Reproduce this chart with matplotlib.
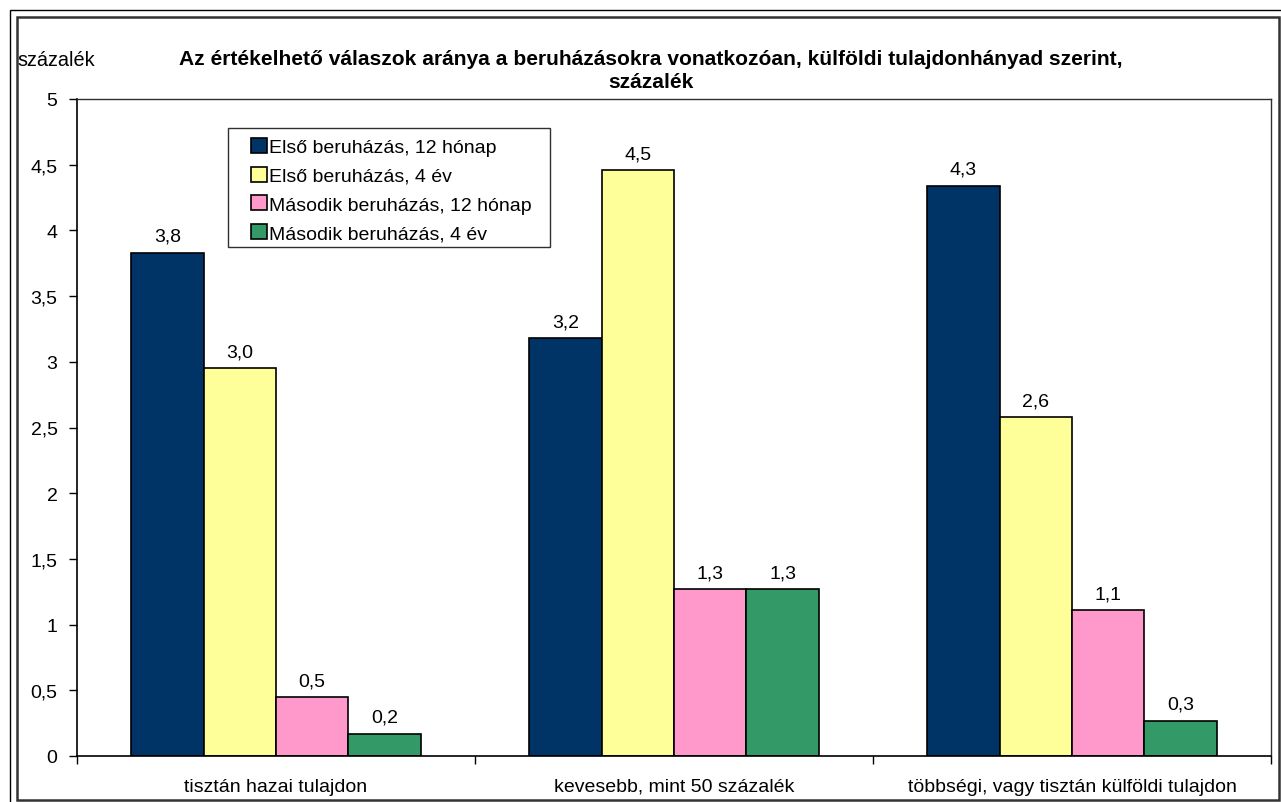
import numpy as np
import matplotlib
matplotlib.use("Agg")
import matplotlib.pyplot as plt
from matplotlib.patches import Rectangle

plt.rcParams['font.family'] = ['Liberation Sans', 'DejaVu Sans']

# adatok
categories = ["tisztán hazai tulajdon", "kevesebb, mint 50 százalék",
              "többségi, vagy tisztán külföldi tulajdon"]
series_names = ["Első beruházás, 12 hónap", "Első beruházás, 4 év",
                "Második beruházás, 12 hónap", "Második beruházás, 4 év"]
elso_12 = [3.83, 3.18, 4.34]
elso_4 = [2.95, 4.46, 2.58]
masodik_12 = [0.45, 1.27, 1.11]
masodik_4 = [0.17, 1.27, 0.27]
yticks = [0, 0.5, 1, 1.5, 2, 2.5, 3, 3.5, 4, 4.5, 5]

series = [elso_12, elso_4, masodik_12, masodik_4]
colors = ["#003366", "#FFFF99", "#FF99CC", "#339966"]

fig = plt.figure(figsize=(12.81, 8.03), dpi=100)
W, H = 1281, 803
ax = fig.add_axes([77 / W, 1 - 757 / H, (1271 - 77) / W, (757 - 100) / H])
AW, AH = 1271 - 77, 757 - 100

x = np.arange(len(categories))
bw = 1 / 5.5
for i, (vals, col) in enumerate(zip(series, colors)):
    pos = x + (i - 1.5) * bw
    ax.bar(pos, vals, width=bw, color=col, edgecolor="black", linewidth=1.2,
           label=series_names[i], zorder=2)
    for p, v in zip(pos, vals):
        ax.annotate(f"{v:.1f}".replace(".", ","), (p, v), xytext=(0, 8.5),
                    textcoords="offset points", ha="center", va="baseline",
                    fontsize=14)

ax.set_xlim(-0.5, 2.5)
ax.set_ylim(0, 5)
ax.set_yticks(yticks)
ax.set_yticklabels([f"{t:g}".replace(".", ",") for t in yticks], fontsize=14)
ax.set_xticks([-0.5, 0.5, 1.5, 2.5])
ax.set_xticklabels([])
for xi, cat in zip(x, categories):
    ax.annotate(cat, (xi, 0), xycoords=("data", "axes fraction"), xytext=(0, -25.2),
                textcoords="offset points", ha="center", va="baseline", fontsize=14)
ax.tick_params(axis="x", which="major", length=6, direction="out", width=1)
ax.tick_params(axis="y", length=6, direction="out", width=1, pad=8)
for s in ["left", "bottom"]:
    ax.spines[s].set_color("black")
    ax.spines[s].set_linewidth(1.2)
for s in ["top", "right"]:
    ax.spines[s].set_color("#303030")
    ax.spines[s].set_linewidth(1)

# jelmagyarázat
ax.add_patch(Rectangle(((228 - 77) / AW, 1 - (248 - 100) / AH), (550 - 228) / AW, (248 - 129) / AH,
                       transform=ax.transAxes, facecolor="white", edgecolor="#303030",
                       linewidth=1, zorder=3))
leg = ax.legend(loc="upper left", bbox_to_anchor=((251 - 77) / AW, 1 - (139 - 100) / AH),
                fontsize=14, frameon=False, handlelength=0.8,
                handleheight=0.8, handletextpad=0.15, borderpad=0,
                labelspacing=0.54, borderaxespad=0)
leg.set_zorder(4)

fig.text(651 / W, 1 - 71 / H,
         "Az értékelhető válaszok aránya a beruházásokra vonatkozóan, külföldi tulajdonhányad szerint,\nszázalék",
         ha="center", va="center", fontsize=15.1, fontweight="bold", linespacing=1.25)
fig.text(17 / W, 1 - 61 / H, "százalék", ha="left", va="center", fontsize=14.3)

# keretek
fig.patches.append(Rectangle((10 / W, -0.1), 2, 1 - 11 / H + 0.1, transform=fig.transFigure,
                             fill=False, edgecolor="black", linewidth=1))
fig.patches.append(Rectangle((17 / W, 1 - 801 / H), (1279 - 17) / W, (801 - 18) / H,
                             transform=fig.transFigure, fill=False,
                             edgecolor="#333333", linewidth=1.8))

fig.savefig("out.png", dpi=100)
